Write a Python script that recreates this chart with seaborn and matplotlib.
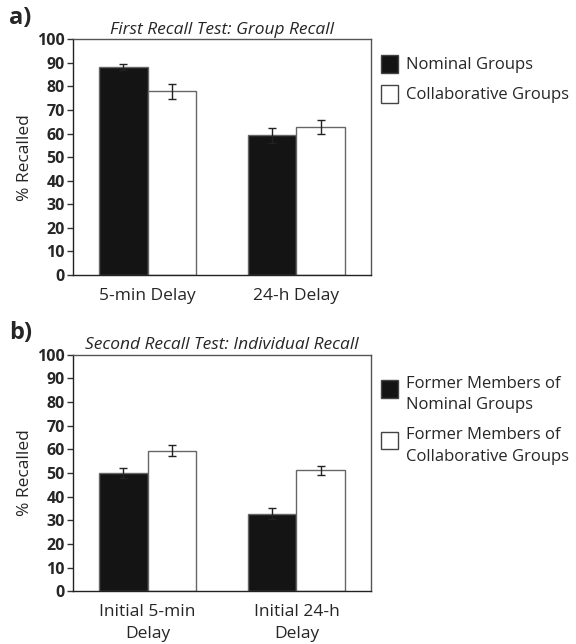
import pandas as pd
import matplotlib
matplotlib.use('Agg')
import matplotlib.pyplot as plt
import seaborn as sns
from matplotlib.patches import Patch, Rectangle
from matplotlib.legend_handler import HandlerPatch

#   DATA   #
cats_a = ['5-min Delay', '24-h Delay']
groups_a = ['Nominal Groups', 'Collaborative Groups']
nominal_a = [88.3, 59.3]
collab_a = [78.0, 62.8]
nominal_a_err = [1.2, 3.2]
collab_a_err = [3.2, 3.0]

cats_b = ['Initial 5-min\nDelay', 'Initial 24-h\nDelay']
groups_b = ['Former Members of\nNominal Groups', 'Former Members of\nCollaborative Groups']
nominal_b = [50.1, 32.8]
collab_b = [59.5, 51.1]
nominal_b_err = [2.2, 2.2]
collab_b_err = [2.2, 2.0]

sns.set_style('white')
plt.rcParams['font.family'] = ['Open Sans', 'DejaVu Sans']

fig = plt.figure(figsize=(5.76, 6.44), dpi=100)
ax_a = fig.add_axes([0.127, 0.573, 0.517, 0.366])
ax_b = fig.add_axes([0.127, 0.082, 0.517, 0.367])

colors = ['#141414', '#ffffff']


# Square legend box pinned to the top of the handle area (first text line)
def top_box(legend, orig_handle, xdescent, ydescent, width, height, fontsize):
    return Rectangle((-xdescent, -ydescent + height - width), width, width)


def draw_panel(ax, cats, groups, nominal, collab, nominal_err, collab_err,
               title, letter, leg_y, leg_space, hh):
    # Long format table for seaborn
    df = pd.DataFrame({
        'cat': cats * 2,
        'group': [groups[0]] * 2 + [groups[1]] * 2,
        'value': nominal + collab,
    })
    errs = nominal_err + collab_err
    sns.barplot(ax=ax, data=df, x='cat', y='value', hue='group',
                palette=colors, width=0.65, errorbar=None,
                edgecolor='#666666', linewidth=1.0, saturation=1, legend=False)

    # Error bars placed at the centre of each bar
    for patch, err in zip(ax.patches, errs):
        xc = patch.get_x() + patch.get_width() / 2
        ax.errorbar(xc, patch.get_height(), yerr=err, fmt='none',
                    ecolor='#222222', elinewidth=1.0, capsize=3, capthick=1.0)

    ax.set_xlim(-0.5, 1.5)
    ax.set_ylim(0, 100)
    ax.set_yticks(range(0, 101, 10))
    ax.set_yticklabels([str(v) for v in range(0, 101, 10)], fontweight='bold', fontsize=11.5)
    ax.tick_params(axis='y', left=True, length=4, width=1, color='#333333', pad=2)
    ax.tick_params(axis='x', bottom=False, labelsize=12.5, pad=6)
    for t in ax.get_xticklabels():
        t.set_linespacing(1.5)
    ax.set_xlabel('')
    ax.set_ylabel('% Recalled', fontsize=12.5, labelpad=3)
    for side in ['top', 'right']:
        ax.spines[side].set_color('#555555')
    for side in ['left', 'bottom']:
        ax.spines[side].set_color('#222222')
    for s in ax.spines.values():
        s.set_linewidth(1.0)
    ax.set_title(title, fontstyle='italic', fontsize=12.5, pad=4)
    ax.text(-0.215, 1.04, letter, transform=ax.transAxes, fontsize=17,
            fontweight='bold', va='bottom', ha='left')

    handles = [Patch(facecolor=colors[0], edgecolor='#444444', label=groups[0]),
               Patch(facecolor=colors[1], edgecolor='#444444', label=groups[1])]
    leg = ax.legend(handles=handles, loc='upper left', bbox_to_anchor=(1.01, leg_y),
                    frameon=False, fontsize=12, handlelength=1.05, handleheight=hh,
                    handletextpad=0.45, labelspacing=leg_space, borderaxespad=0,
                    handler_map={Patch: HandlerPatch(patch_func=top_box)})
    for t in leg.get_texts():
        t.set_linespacing(1.45)


draw_panel(ax_a, cats_a, groups_a, nominal_a, collab_a, nominal_a_err, collab_a_err,
           'First Recall Test: Group Recall', 'a)', 0.96, 0.75, 1.05)
draw_panel(ax_b, cats_b, groups_b, nominal_b, collab_b, nominal_b_err, collab_b_err,
           'Second Recall Test: Individual Recall', 'b)', 0.94, 0.85, 2.4)

plt.savefig('out.png', dpi=100)
